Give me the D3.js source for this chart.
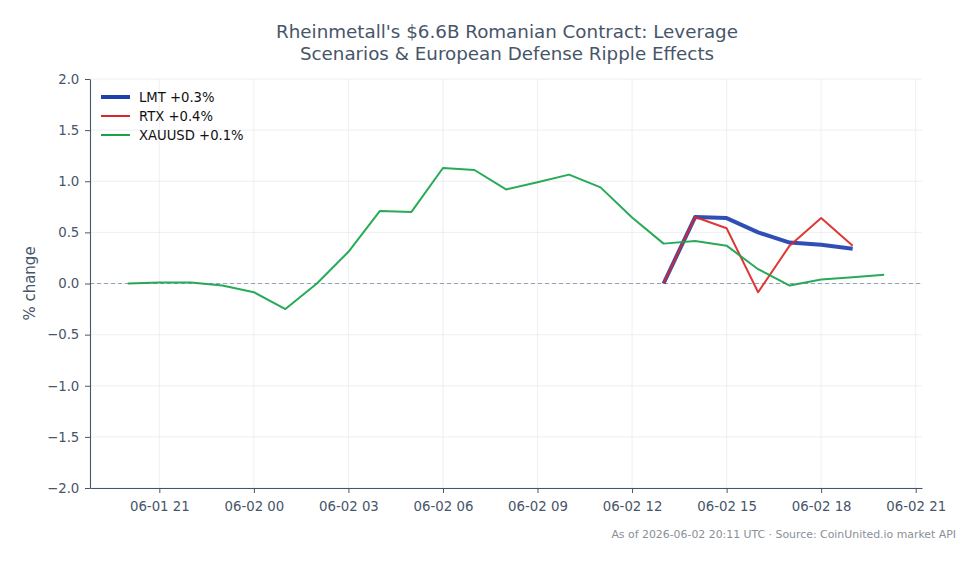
<!DOCTYPE html>
<html><head><meta charset="utf-8">
<script src="https://cdn.jsdelivr.net/npm/d3@7"></script>
<style>body{margin:0;background:#fff;}svg{display:block;font-family:"DejaVu Sans",sans-serif;}</style>
</head><body><svg id="c" width="979" height="564"></svg>
<script>
const titleLines = ["Rheinmetall's $6.6B Romanian Contract: Leverage", "Scenarios & European Defense Ripple Effects"];
const footer = "As of 2026-06-02 20:11 UTC · Source: CoinUnited.io market API";
const yLabel = "% change";
const xTickLabels = ["06-01 21","06-02 00","06-02 03","06-02 06","06-02 09","06-02 12","06-02 15","06-02 18","06-02 21"];
const yTicks = [-2.0,-1.5,-1.0,-0.5,0.0,0.5,1.0,1.5,2.0];

const xauTimes = ["2026-06-01T20:00","2026-06-01T21:00","2026-06-01T22:00","2026-06-01T23:00","2026-06-02T00:00","2026-06-02T01:00","2026-06-02T02:00","2026-06-02T03:00","2026-06-02T04:00","2026-06-02T05:00","2026-06-02T06:00","2026-06-02T07:00","2026-06-02T08:00","2026-06-02T09:00","2026-06-02T10:00","2026-06-02T11:00","2026-06-02T12:00","2026-06-02T13:00","2026-06-02T14:00","2026-06-02T15:00","2026-06-02T16:00","2026-06-02T17:00","2026-06-02T18:00","2026-06-02T19:00","2026-06-02T20:00"];
const xauValues = [0.00,0.01,0.01,-0.02,-0.085,-0.25,0.00,0.31,0.71,0.70,1.13,1.11,0.92,0.99,1.065,0.94,0.645,0.39,0.415,0.37,0.14,-0.02,0.04,0.06,0.085];
const stockTimes = ["2026-06-02T13:00","2026-06-02T14:00","2026-06-02T15:00","2026-06-02T16:00","2026-06-02T17:00","2026-06-02T18:00","2026-06-02T19:00"];
const lmtValues = [0.00,0.65,0.64,0.50,0.40,0.38,0.34];
const rtxValues = [0.00,0.65,0.54,-0.085,0.37,0.64,0.37];

const seriesNames = ["LMT +0.3%","RTX +0.4%","XAUUSD +0.1%"];
const seriesColors = ["#1e40af","#dc2626","#16a34a"];
const seriesWidths = [4,2,2];

const parse = d3.utcParse("%Y-%m-%dT%H:%M");
const series = [
  {name:seriesNames[0], color:seriesColors[0], w:seriesWidths[0], pts:stockTimes.map((t,i)=>({t:parse(t),v:lmtValues[i]}))},
  {name:seriesNames[1], color:seriesColors[1], w:seriesWidths[1], pts:stockTimes.map((t,i)=>({t:parse(t),v:rtxValues[i]}))},
  {name:seriesNames[2], color:seriesColors[2], w:seriesWidths[2], pts:xauTimes.map((t,i)=>({t:parse(t),v:xauValues[i]}))}
];

const L=90,R=922,T=79,B=488;
const svg=d3.select("#c");
const allT = xauTimes.map(parse);
const t0=d3.min(allT), t1=d3.max(allT), span=t1-t0;
const x=d3.scaleUtc().domain([new Date(+t0-span*0.05), new Date(+t1+span*0.05)]).range([L,R]);
const y=d3.scaleLinear().domain([-2,2]).range([B,T]);
const xTickDates = xTickLabels.map(s=>d3.utcParse("%m-%d %H")(s)).map(d=>{d.setUTCFullYear(2026);return d;});

const textCol="#475569";
// grid
const g=svg.append("g");
g.selectAll(".vg").data(xTickDates).join("line").attr("x1",d=>x(d)).attr("x2",d=>x(d)).attr("y1",T).attr("y2",B).attr("stroke","#e5e7eb").attr("stroke-width",0.8).attr("opacity",0.8);
g.selectAll(".hg").data(yTicks).join("line").attr("x1",L).attr("x2",R).attr("y1",d=>y(d)).attr("y2",d=>y(d)).attr("stroke","#e5e7eb").attr("stroke-width",0.8).attr("opacity",0.8);
// zero line
svg.append("line").attr("x1",L).attr("x2",R).attr("y1",y(0)).attr("y2",y(0)).attr("stroke","#94a3b8").attr("stroke-width",1).attr("stroke-dasharray","4,3");

// axes
const xAxis=d3.axisBottom(x).tickValues(xTickDates).tickFormat((d,i)=>xTickLabels[i]).tickSize(5).tickSizeOuter(0);
const xa=svg.append("g").attr("transform",`translate(0,${B})`).call(xAxis);
const yAxis=d3.axisLeft(y).tickValues(yTicks).tickFormat(d=>d3.format(".1f")(d).replace("-","−")).tickSize(5).tickSizeOuter(0);
const ya=svg.append("g").attr("transform",`translate(${L},0)`).call(yAxis);
[xa,ya].forEach(a=>{a.select(".domain").attr("stroke",textCol).attr("stroke-width",1.1);a.selectAll(".tick line").attr("stroke",textCol);a.selectAll("text").attr("fill",textCol).attr("font-size",13.3).attr("font-family","DejaVu Sans");});
xa.selectAll("text").attr("dy","1.1em");
ya.selectAll("text").attr("dx","-0.2em");

// lines: LMT, RTX, XAU order
const line=d3.line().x(d=>x(d.t)).y(d=>y(d.v));
series.forEach(s=>{
  svg.append("path").datum(s.pts).attr("d",line).attr("fill","none").attr("stroke",s.color).attr("stroke-width",s.w).attr("stroke-linejoin","round").attr("opacity",0.92);
});
// legend
const lg=svg.append("g").attr("transform","translate(101,97)");
series.forEach((s,i)=>{
  lg.append("line").attr("x1",0).attr("x2",29).attr("y1",i*19).attr("y2",i*19).attr("stroke",s.color).attr("stroke-width",s.w);
  lg.append("text").attr("x",38).attr("y",i*19).attr("dy","0.35em").attr("font-size",13.2).attr("fill","#111").text(s.name);
});

// title
svg.append("text").attr("x",507).attr("y",38).attr("text-anchor","middle").attr("font-size",18.3).attr("fill",textCol)
  .selectAll("tspan").data(titleLines).join("tspan").attr("x",507).attr("dy",(d,i)=>i?"1.2em":0).text(d=>d);
// y label
svg.append("text").attr("transform",`translate(35,${y(0)}) rotate(-90)`).attr("text-anchor","middle").attr("font-size",15).attr("fill",textCol).text(yLabel);
// footer
svg.append("text").attr("x",956).attr("y",538).attr("text-anchor","end").attr("font-size",10.9).attr("fill","#8a8f98").text(footer);
</script></body></html>
